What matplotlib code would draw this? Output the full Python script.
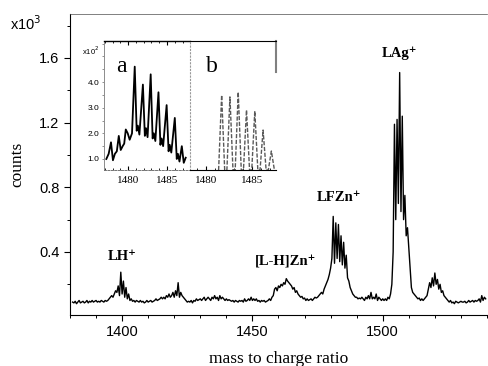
import numpy as np
import matplotlib.pyplot as plt
from matplotlib.ticker import MultipleLocator

# main spectrum, counts in units of 10^3, sampled every 0.5 m/z from 1381
mz_start = 1381.0
mz_step = 0.5
counts = [
    0.09, 0.085, 0.095, 0.08, 0.09, 0.10, 0.085, 0.09, 0.095, 0.085,
    0.09, 0.10, 0.085, 0.095, 0.09, 0.10, 0.09, 0.095, 0.10, 0.09,
    0.095, 0.09, 0.10, 0.095, 0.09, 0.10, 0.095, 0.10, 0.11, 0.12,
    0.13, 0.12, 0.14, 0.16, 0.15, 0.19, 0.13, 0.275, 0.14, 0.22,
    0.12, 0.18, 0.11, 0.14, 0.10, 0.11, 0.095, 0.10, 0.09, 0.10,
    0.095, 0.09, 0.10, 0.09, 0.095, 0.085, 0.09, 0.10, 0.09, 0.095,
    0.10, 0.09, 0.095, 0.10, 0.11, 0.10, 0.105, 0.11, 0.12, 0.11,
    0.12, 0.11, 0.13, 0.12, 0.14, 0.12, 0.13, 0.15, 0.12, 0.16,
    0.13, 0.21, 0.12, 0.15, 0.13, 0.12, 0.11, 0.10, 0.09, 0.095,
    0.09, 0.10, 0.085, 0.10, 0.095, 0.11, 0.10, 0.105, 0.11, 0.10,
    0.11, 0.12, 0.10, 0.11, 0.12, 0.11, 0.10, 0.12, 0.11, 0.13,
    0.11, 0.12, 0.10, 0.13, 0.11, 0.12, 0.11, 0.10, 0.11, 0.10,
    0.105, 0.10, 0.095, 0.10, 0.09, 0.10, 0.095, 0.09, 0.10, 0.095,
    0.10, 0.09, 0.11, 0.095, 0.10, 0.11, 0.10, 0.12, 0.10, 0.11,
    0.10, 0.11, 0.095, 0.10, 0.09, 0.10, 0.095, 0.10, 0.09, 0.095,
    0.10, 0.11, 0.10, 0.12, 0.13, 0.17, 0.18, 0.16, 0.19, 0.18,
    0.20, 0.19, 0.21, 0.20, 0.235, 0.22, 0.21, 0.20, 0.19, 0.17,
    0.18, 0.15, 0.16, 0.14, 0.13, 0.12, 0.125, 0.11, 0.115, 0.10,
    0.11, 0.10, 0.105, 0.11, 0.10, 0.11, 0.12, 0.115, 0.12, 0.13,
    0.14, 0.15, 0.14, 0.17, 0.19, 0.21, 0.23, 0.26, 0.30, 0.36,
    0.62, 0.33, 0.58, 0.36, 0.57, 0.34, 0.50, 0.32, 0.46, 0.30,
    0.38, 0.24, 0.22, 0.18, 0.16, 0.14, 0.13, 0.12, 0.12, 0.11,
    0.115, 0.11, 0.12, 0.11, 0.10, 0.12, 0.11, 0.13, 0.11, 0.15,
    0.11, 0.12, 0.11, 0.14, 0.10, 0.12, 0.11, 0.10, 0.11, 0.10,
    0.11, 0.10, 0.12, 0.11, 0.14, 0.20, 0.40, 1.19, 0.60, 1.22,
    0.70, 1.51, 0.65, 1.24, 0.60, 0.75, 0.50, 0.55, 0.43, 0.30,
    0.18, 0.15, 0.14, 0.13, 0.12, 0.11, 0.115, 0.10, 0.11, 0.10,
    0.11, 0.12, 0.13, 0.17, 0.21, 0.18, 0.24, 0.19, 0.27, 0.20,
    0.23, 0.17, 0.20, 0.15, 0.16, 0.13, 0.12, 0.11, 0.10, 0.09,
    0.10, 0.085, 0.09, 0.08, 0.095, 0.09, 0.085, 0.09, 0.095, 0.09,
    0.09, 0.095, 0.085, 0.09, 0.10, 0.09, 0.095, 0.10, 0.09, 0.10,
    0.095, 0.10, 0.11, 0.09, 0.13, 0.10, 0.12, 0.11,
]

peak_labels = ["LH\u207a", "[L-H]Zn\u207a", "LFZn\u207a", "LAg\u207a"]
peak_label_x = [1400, 1462.6, 1483.2, 1506.5]
peak_label_y = [0.37, 0.34, 0.74, 1.63]

# inset a: measured isotope pattern (x10^2)
a_mz = [1477.2, 1477.5, 1477.8, 1478.05, 1478.3, 1478.55, 1478.8, 1479.05,
        1479.3, 1479.5, 1479.7, 1479.95, 1480.2, 1480.5, 1480.85, 1481.1,
        1481.25, 1481.45, 1481.9, 1482.15, 1482.3, 1482.5, 1482.9, 1483.15,
        1483.3, 1483.5, 1483.9, 1484.15, 1484.3, 1484.5, 1484.95, 1485.2,
        1485.35, 1485.55, 1486.0, 1486.25, 1486.4, 1486.6, 1486.9, 1487.15,
        1487.4]
a_counts = [1.0, 1.2, 1.65, 0.95, 1.2, 1.3, 1.9, 1.35,
            1.5, 1.6, 2.15, 2.0, 1.75, 2.0, 4.6, 2.1,
            2.3, 1.95, 3.9, 1.9, 2.2, 1.85, 4.3, 1.8,
            2.0, 1.7, 3.6, 1.55, 1.8, 1.5, 3.1, 1.3,
            1.55, 1.25, 2.6, 1.0, 1.2, 0.9, 1.5, 0.85,
            1.05]

# inset b: simulated isotope pattern
b_centers = [1481.7, 1482.6, 1483.5, 1484.4, 1485.3, 1486.2, 1487.1]
b_heights = [2.96, 2.89, 3.08, 2.37, 2.33, 1.58, 0.75]
b_halfwidth = 0.33

SANS = ['Liberation Sans', 'DejaVu Sans']
SERIF = ['Liberation Serif', 'DejaVu Serif']

mz = mz_start + mz_step * np.arange(len(counts))

fig = plt.figure(figsize=(4.88, 3.66), dpi=100)
ax = fig.add_axes([0.1434, 0.1393, 0.8545, 0.8224])
ax.plot(mz, counts, color='black', lw=1.0)
ax.set_xlim(1380, 1540)
ax.set_ylim(0.01, 1.872)
ax.xaxis.set_major_locator(MultipleLocator(50))
ax.xaxis.set_minor_locator(MultipleLocator(10))
ax.set_yticks([0.4, 0.8, 1.2, 1.6])
ax.yaxis.set_minor_locator(MultipleLocator(0.2))
ax.tick_params(which='major', length=4, width=0.8, labelsize=10.5)
ax.tick_params(which='minor', length=2.5, width=0.7)
for lab in ax.get_xticklabels() + ax.get_yticklabels():
    lab.set_family(SANS)
ax.spines['right'].set_visible(False)
ax.spines['top'].set_linewidth(0.5)
ax.spines['top'].set_color('0.3')
ax.set_xlabel('mass to charge ratio', family=SERIF, fontsize=12.5, labelpad=8)
ax.set_ylabel('counts', family=SERIF, fontsize=12.5, labelpad=10)
fig.text(0.02, 0.935, r'x10$^3$', family=SANS, fontsize=10.5, va='center')

for lab, lx, ly in zip(peak_labels, peak_label_x, peak_label_y):
    ax.text(lx, ly, lab, family=SERIF, fontweight='bold', fontsize=10.5,
            ha='center', va='center')

# inset a
axa = fig.add_axes([0.2131, 0.5355, 0.1762, 0.3525])
axa.plot(a_mz, a_counts, color='black', lw=1.3)
axa.set_xlim(1476.9, 1487.95)
axa.set_ylim(0.57, 5.6)
axa.set_xticks([1480, 1485])
axa.xaxis.set_minor_locator(MultipleLocator(1))
axa.set_yticks([1.0, 2.0, 3.0, 4.0])
axa.set_yticklabels(['1.0', '2.0', '3.0', '4.0'])
axa.yaxis.set_minor_locator(MultipleLocator(0.5))
axa.tick_params(axis='x', which='both', top=True, direction='in', labelsize=8, pad=4)
axa.tick_params(axis='x', which='major', length=3)
axa.tick_params(axis='x', which='minor', length=1.5)
axa.tick_params(axis='y', which='both', length=1.5, width=0.6, labelsize=6, pad=2, color='0.5')
for lab in axa.get_xticklabels():
    lab.set_family(SERIF)
for lab in axa.get_yticklabels():
    lab.set_family(SANS)
axa.spines['right'].set_visible(False)
axa.spines['left'].set_color('0.55')
axa.spines['left'].set_linewidth(0.7)
axa.spines['bottom'].set_color('0.45')
axa.spines['bottom'].set_linestyle((0, (2, 1.5)))
axa.spines['bottom'].set_linewidth(0.7)
axa.spines['top'].set_linewidth(1.0)
axa.text(0.14, 0.8, 'a', transform=axa.transAxes, family=SERIF, fontsize=17, va='center')
fig.text(0.168, 0.862, r'x10$^2$', family=SANS, fontsize=5.5, va='center')

# inset b
bx = []
by = []
for c, h in zip(b_centers, b_heights):
    bx += [c - b_halfwidth, c, c + b_halfwidth]
    by += [0.0, h, 0.0]
axb = fig.add_axes([0.3893, 0.5355, 0.1762, 0.3525])
axb.plot(bx, by, color='0.35', lw=1.0, ls=(0, (3, 1.2)))
axb.set_xlim(1478.26, 1487.6)
axb.set_ylim(0, 5.1)
axb.set_xticks([1480, 1485])
axb.xaxis.set_minor_locator(MultipleLocator(1))
axb.set_yticks([])
axb.tick_params(axis='x', which='both', direction='in', labelsize=8, pad=4)
axb.tick_params(axis='x', which='major', length=3)
axb.tick_params(axis='x', which='minor', length=1.5)
for lab in axb.get_xticklabels():
    lab.set_family(SERIF)
axb.spines['left'].set_color('0.6')
axb.spines['left'].set_linestyle((0, (1, 2)))
axb.spines['left'].set_linewidth(0.8)
axb.spines['right'].set_color('0.5')
axb.spines['right'].set_linewidth(1.5)
axb.spines['right'].set_bounds(3.87, 5.1)
axb.text(0.18, 0.8, 'b', transform=axb.transAxes, family=SERIF, fontsize=17, va='center')

fig.savefig('out.png', dpi=100)
